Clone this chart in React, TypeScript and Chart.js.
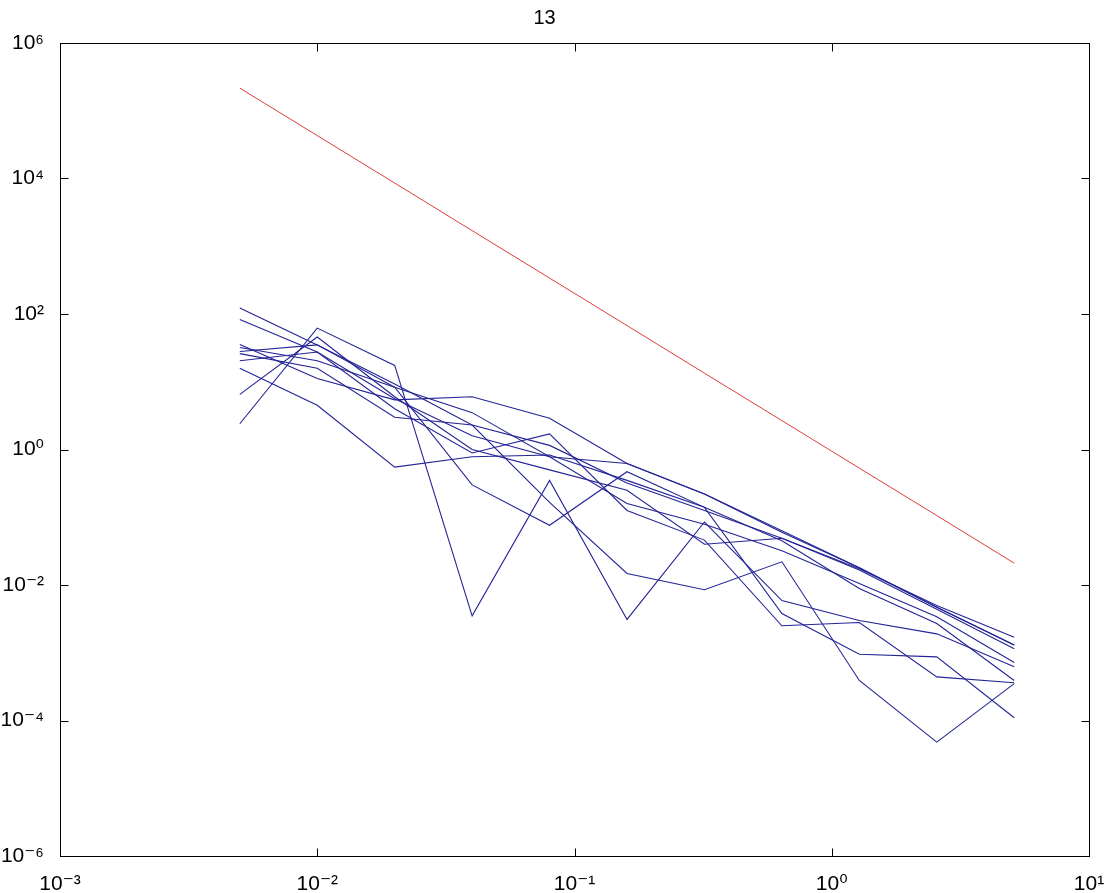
import React, { useEffect, useRef } from 'react';
import { Chart, registerables } from 'chart.js';

Chart.register(...registerables);

const TITLE = '13';
const X_VALUES = [0.005, 0.01, 0.02, 0.04, 0.08, 0.16, 0.32, 0.64, 1.28, 2.56, 5.12];
const X_TICKS = [1e-3, 1e-2, 1e-1, 1, 10];
const Y_TICKS = [1e-6, 1e-4, 1e-2, 1, 1e2, 1e4, 1e6];

const RED_LINE = [216000, 43000, 8570, 1700, 339, 67.5, 13.4, 2.67, 0.531, 0.106, 0.021];

const SERIES_A = [2.4, 62, 17.4, 0.0035, 0.35, 0.0031, 0.085, 0.0059, 0.003, 0.0019, 0.00062];
const SERIES_B = [123, 35, 9.3, 2.3, 1.15, 0.32, 0.126, 0.049, 0.0174, 0.005, 0.0017];
const SERIES_C = [83, 27.5, 5.6, 1.6, 0.78, 0.16, 0.079, 0.032, 0.0105, 0.0034, 0.00072];
const SERIES_D = [35.5, 11.2, 5.4, 6.0, 2.9, 0.62, 0.22, 0.06, 0.018, 0.0047, 0.0013];
const SERIES_E = [32, 20.4, 8.3, 0.3, 0.076, 0.47, 0.14, 0.0038, 0.00095, 0.00087, 0.00011];
const SERIES_F = [26, 15.8, 3.0, 2.3, 0.166, 0.0148, 0.0085, 0.022, 0.00039, 0.000048, 0.00035];
const SERIES_G = [20.4, 27.5, 4.0, 0.89, 1.7, 0.126, 0.046, 0.0025, 0.0028, 0.00044, 0.00036];
const SERIES_H = [15.8, 4.5, 0.55, 0.78, 0.83, 0.35, 0.14, 0.045, 0.0089, 0.0027, 0.00039];
const SERIES_I = [6.5, 45.7, 6.0, 1.0, 0.5, 0.25, 0.04, 0.049, 0.0166, 0.0044, 0.00115];
const SERIES_J = [28, 35, 8.3, 3.5, 0.78, 0.62, 0.22, 0.063, 0.018, 0.0047, 0.0013];

const BLUE_SERIES = [SERIES_A, SERIES_B, SERIES_C, SERIES_D, SERIES_E, SERIES_F, SERIES_G, SERIES_H, SERIES_I, SERIES_J];

const FONT = "'Liberation Sans', Arial, 'DejaVu Sans', sans-serif";
const SUP: Record<string, string> = {
  '-': '\u207B', '0': '\u2070', '1': '\u00B9', '2': '\u00B2', '3': '\u00B3',
  '4': '\u2074', '5': '\u2075', '6': '\u2076', '7': '\u2077', '8': '\u2078', '9': '\u2079',
};

function powLabel(v: number): string {
  const e = Math.round(Math.log10(v));
  return '10' + String(e).split('').map((c) => SUP[c] || c).join('');
}

const boxPlugin = {
  id: 'matlabBox',
  afterDraw(chart: any) {
    const { ctx, chartArea, scales } = chart;
    const { left, right, top, bottom } = chartArea;
    const x = scales.x;
    const y = scales.y;
    const L = 8;
    ctx.save();
    ctx.strokeStyle = '#000';
    ctx.lineWidth = 1;
    const l = Math.round(left) + 0.5;
    const r = Math.round(right) + 0.5;
    const t = Math.round(top) + 0.5;
    const b = Math.round(bottom) + 0.5;
    ctx.strokeRect(l, t, r - l, b - t);
    ctx.beginPath();
    X_TICKS.forEach((v) => {
      const px = Math.round(x.getPixelForValue(v)) + 0.5;
      ctx.moveTo(px, b);
      ctx.lineTo(px, b - L);
      ctx.moveTo(px, t);
      ctx.lineTo(px, t + L);
    });
    Y_TICKS.forEach((v) => {
      const py = Math.round(y.getPixelForValue(v)) + 0.5;
      ctx.moveTo(l, py);
      ctx.lineTo(l + L, py);
      ctx.moveTo(r, py);
      ctx.lineTo(r - L, py);
    });
    ctx.stroke();
    ctx.restore();
  },
};

export default function App() {
  const canvasRef = useRef<HTMLCanvasElement | null>(null);

  useEffect(() => {
    document.body.style.margin = '0';
    const canvas = canvasRef.current;
    if (!canvas) return;

    const blueSets = BLUE_SERIES.map((s, i) => ({
      label: 'run ' + (i + 1),
      data: X_VALUES.map((xv, j) => ({ x: xv, y: s[j] })),
      borderColor: 'rgb(35,35,150)',
      borderWidth: 1.1,
      pointRadius: 0,
      tension: 0,
      fill: false,
    }));

    const redSet = {
      label: 'reference',
      data: X_VALUES.map((xv, j) => ({ x: xv, y: RED_LINE[j] })),
      borderColor: 'rgb(225,60,60)',
      borderWidth: 1,
      pointRadius: 0,
      tension: 0,
      fill: false,
    };

    const chart = new Chart(canvas, {
      type: 'line',
      data: { datasets: [...blueSets, redSet] },
      options: {
        responsive: false,
        animation: false,
        devicePixelRatio: 1,
        layout: { padding: { left: 0, right: 17, top: 0, bottom: 0 } },
        plugins: {
          legend: { display: false },
          tooltip: { enabled: false },
          title: {
            display: true,
            text: TITLE,
            color: '#000',
            font: { size: 20, weight: 'normal', family: FONT },
            padding: { top: 6, bottom: 13 },
          },
        },
        scales: {
          x: {
            type: 'logarithmic',
            position: 'bottom',
            min: 1e-3,
            max: 10,
            grid: { display: false },
            border: { display: false },
            afterBuildTicks: (scale: any) => {
              scale.ticks = X_TICKS.map((v) => ({ value: v }));
            },
            afterFit: (scale: any) => {
              scale.height = 37;
              scale.paddingRight = 0;
              scale.paddingLeft = 0;
            },
            ticks: {
              autoSkip: false,
              maxRotation: 0,
              padding: 8,
              color: '#000',
              font: { size: 21, family: FONT },
              callback: (v: any) => powLabel(Number(v)),
            },
          },
          y: {
            type: 'logarithmic',
            position: 'left',
            min: 1e-6,
            max: 1e6,
            grid: { display: false },
            border: { display: false },
            afterBuildTicks: (scale: any) => {
              scale.ticks = Y_TICKS.map((v) => ({ value: v }));
            },
            afterFit: (scale: any) => {
              scale.width = 60;
              scale.paddingTop = 0;
              scale.paddingBottom = 0;
            },
            ticks: {
              autoSkip: false,
              padding: 8,
              color: '#000',
              font: { size: 21, family: FONT },
              callback: (v: any) => powLabel(Number(v)),
            },
          },
        },
      },
      plugins: [boxPlugin],
    } as any);

    return () => {
      chart.destroy();
    };
  }, []);

  return (
    <canvas
      ref={canvasRef}
      width={1106}
      height={893}
      style={{ display: 'block', width: '1106px', height: '893px', background: '#fff' }}
    />
  );
}
